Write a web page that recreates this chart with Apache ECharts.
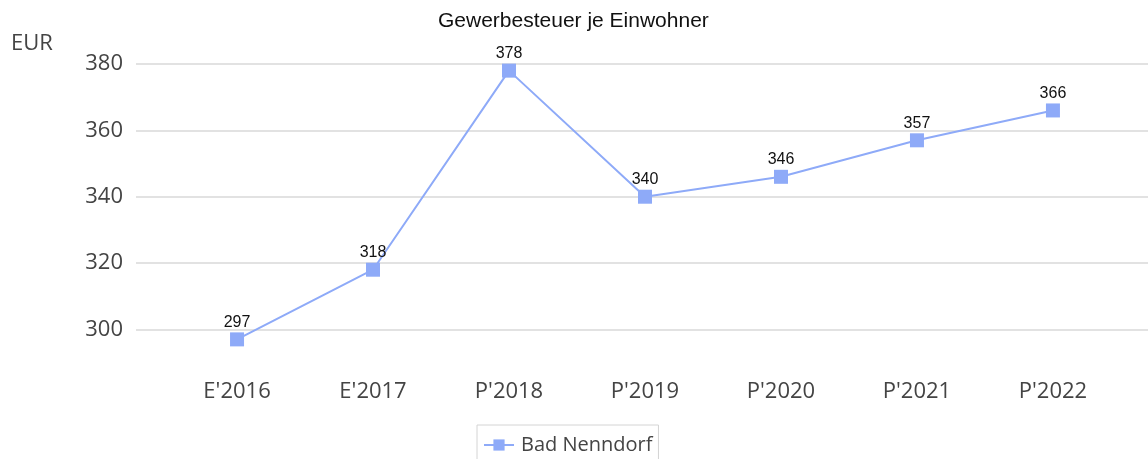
<!DOCTYPE html>
<html>
<head>
<meta charset="utf-8">
<script src="https://cdn.jsdelivr.net/npm/echarts@6/dist/echarts.min.js"></script>
<style>
html,body{margin:0;padding:0;background:#fff;}
#chart{width:1148px;height:459px;}
</style>
</head>
<body>
<div id="chart"></div>
<script>
const categories = ["E'2016", "E'2017", "P'2018", "P'2019", "P'2020", "P'2021", "P'2022"];
const values = [297, 318, 378, 340, 346, 357, 366];
const seriesName = "Bad Nenndorf";
const titleText = "Gewerbesteuer je Einwohner";
const unitLabel = "EUR";
const yTicks = [300, 320, 340, 360, 380];

const chart = echarts.init(document.getElementById('chart'), null, {renderer: 'canvas'});
const color = '#8eaaf8';
const option = {
  animation: false,
  title: {
    text: titleText,
    left: 433,
    top: 6,
    textStyle: {fontFamily: 'Liberation Sans', fontSize: 21, fontWeight: 'normal', color: '#111'}
  },
  graphic: [{
    type: 'text', left: 11, top: 33,
    style: {text: unitLabel, font: '22px "Open Sans"', fill: '#444'}
  }],
  legend: {
    top: 425,
    left: 477,
    data: [seriesName],
    itemWidth: 30,
    itemHeight: 14,
    itemGap: 8,
    padding: [10, 6, 12, 6],
    borderColor: '#d4d4d4',
    borderWidth: 1,
    borderRadius: 0,
    textStyle: {fontFamily: 'Open Sans', fontSize: 20, color: '#444', padding: [0, 0, 0, 2]}
  },
  grid: {left: 136, right: 0, top: 64, bottom: 96.4, containLabel: false},
  xAxis: {
    type: 'value',
    min: -0.743,
    max: 6.699,
    axisLine: {show: false},
    axisTick: {show: false},
    splitLine: {show: false},
    axisLabel: {
      customValues: categories.map((c, i) => i),
      formatter: v => categories[Math.round(v)],
      margin: 18,
      fontFamily: 'Open Sans',
      fontSize: 22,
      color: '#444'
    }
  },
  yAxis: {
    type: 'value',
    min: 290,
    max: 380,
    interval: 10,
    axisLine: {show: false},
    axisTick: {show: false},
    axisLabel: {
      formatter: v => (yTicks.indexOf(v) >= 0 ? String(v) : ''),
      margin: 13,
      padding: [5, 0, 0, 0],
      fontFamily: 'Open Sans',
      fontSize: 22,
      color: '#444'
    },
    splitLine: {show: true, lineStyle: {color: ['rgba(0,0,0,0)', '#d9d9d9'], width: 1.5}}
  },
  series: [{
    name: seriesName,
    type: 'line',
    data: categories.map((c, i) => [i, values[i]]),
    symbol: 'rect',
    symbolSize: 14,
    itemStyle: {color: color},
    lineStyle: {color: color, width: 2},
    label: {
      show: true,
      position: 'top',
      distance: 2,
      formatter: p => String(p.value[1]),
      fontFamily: 'Liberation Sans',
      fontSize: 16,
      color: '#111'
    }
  }]
};
chart.setOption(option);
</script>
</body>
</html>
